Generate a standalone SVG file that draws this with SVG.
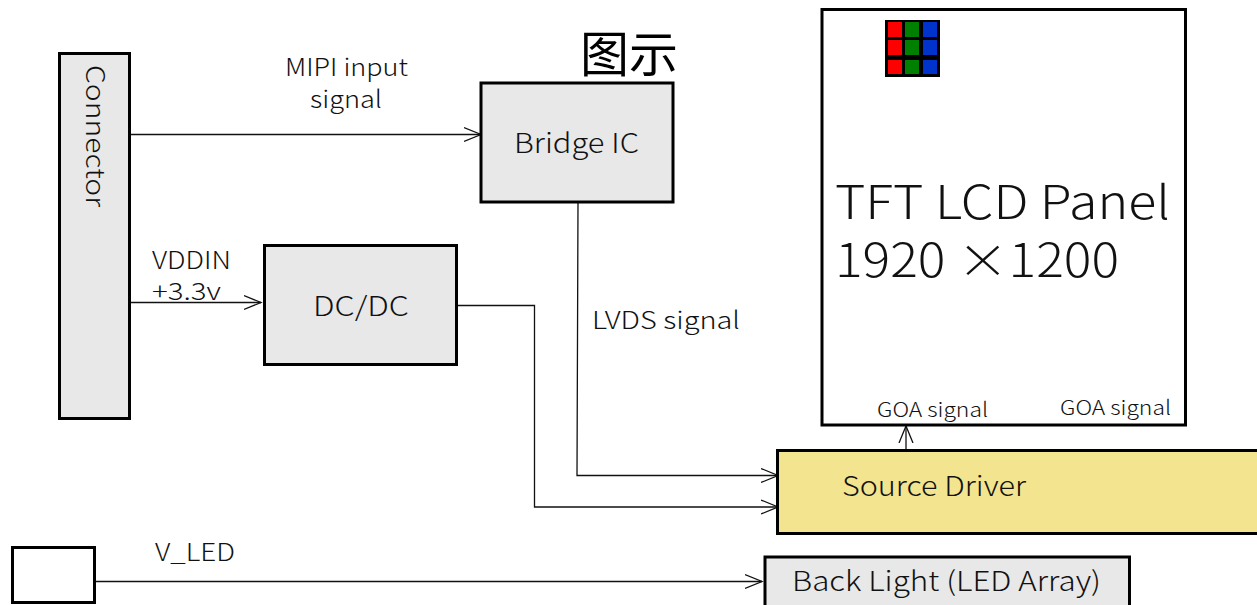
<svg xmlns="http://www.w3.org/2000/svg" width="1257" height="605" viewBox="0 0 1257 605">
<style>
text{font-family:"Noto Sans CJK KR","Noto Sans","Liberation Sans",sans-serif;fill:#111;font-weight:300}
.box{fill:#e8e8e8;stroke:#000;stroke-width:3}
.c{fill:none;stroke:#111;stroke-width:1.3}
</style>
<defs><marker id="a" markerUnits="userSpaceOnUse" markerWidth="20" markerHeight="20" refX="17" refY="10" orient="auto"><path d="M0 3 L17 10 L0 17" fill="none" stroke="#111" stroke-width="1.3"/></marker></defs>
<rect width="1257" height="605" fill="#fff"/>
<g id="connectors">
<path class="c" marker-end="url(#a)" d="M130 134.500H481"/>
<path class="c" marker-end="url(#a)" d="M130 302.500H261"/>
<path class="c" marker-end="url(#a)" d="M578 202L577 475.500H778"/>
<path class="c" marker-end="url(#a)" d="M456 305.500H534.500V507H778"/>
<path class="c" marker-end="url(#a)" d="M95 581.500H762"/>
<path class="c" marker-end="url(#a)" d="M906 450V426"/>
</g>
<g id="connector"><rect class="box" x="59.500" y="53.500" width="70" height="365"/>
<text transform="translate(86,65) rotate(90)" font-size="26" textLength="142" lengthAdjust="spacingAndGlyphs">Connector</text></g>
<g id="bridge"><rect class="box" x="481" y="83" width="192" height="119"/>
<text x="514" y="153" font-size="27" textLength="125" lengthAdjust="spacingAndGlyphs">Bridge IC</text></g>
<g id="dcdc"><rect class="box" x="264.500" y="245.500" width="192" height="119"/>
<text x="313" y="316" font-size="27" textLength="96" lengthAdjust="spacingAndGlyphs">DC/DC</text></g>
<g id="panel"><rect x="822" y="9.500" width="363.500" height="415.500" fill="#fff" stroke="#000" stroke-width="3"/>
<text x="835" y="219" font-size="46" textLength="335" lengthAdjust="spacingAndGlyphs">TFT LCD Panel</text>
<text x="835" y="277" font-size="46" textLength="284" lengthAdjust="spacingAndGlyphs">1920 ×1200</text>
<text x="877" y="417" font-size="20" textLength="111" lengthAdjust="spacingAndGlyphs">GOA signal</text>
<text x="1060" y="415" font-size="20" textLength="111" lengthAdjust="spacingAndGlyphs">GOA signal</text></g>
<g id="pixels"><rect x="885" y="20" width="55" height="57" fill="#000"/>
<g fill="#f00"><rect x="888" y="22" width="14" height="15"/><rect x="888" y="40" width="14" height="15"/><rect x="888" y="60" width="14" height="14"/></g>
<g fill="#008000"><rect x="905" y="22" width="14" height="15"/><rect x="905" y="40" width="14" height="15"/><rect x="905" y="60" width="14" height="14"/></g>
<g fill="#0033cc"><rect x="923" y="22" width="14" height="15"/><rect x="923" y="40" width="14" height="15"/><rect x="923" y="60" width="14" height="14"/></g></g>
<g id="source"><rect x="777.500" y="450.500" width="485" height="83" fill="#f3e48f" stroke="#000" stroke-width="3"/>
<text x="842" y="496" font-size="27" textLength="184" lengthAdjust="spacingAndGlyphs">Source Driver</text></g>
<g id="vled"><rect x="12.500" y="547.500" width="82" height="55" fill="#fff" stroke="#000" stroke-width="3"/></g>
<g id="backlight"><rect class="box" x="765" y="557" width="364.500" height="55"/>
<text x="792" y="591" font-size="27" textLength="309" lengthAdjust="spacingAndGlyphs">Back Light (LED Array)</text></g>
<g id="labels">
<text x="285" y="76" font-size="24" textLength="123" lengthAdjust="spacingAndGlyphs">MIPI input</text>
<text x="310" y="108" font-size="24" textLength="72" lengthAdjust="spacingAndGlyphs">signal</text>
<text x="152" y="269" font-size="24" textLength="79" lengthAdjust="spacingAndGlyphs">VDDIN</text>
<text x="152" y="300" font-size="24" textLength="69" lengthAdjust="spacingAndGlyphs">+3.3v</text>
<text x="592" y="329" font-size="24" textLength="148" lengthAdjust="spacingAndGlyphs">LVDS signal</text>
<text x="155" y="561" font-size="24" textLength="80" lengthAdjust="spacingAndGlyphs">V_LED</text>
<text x="629" y="72" font-size="49" text-anchor="middle" style="font-weight:400;fill:#000">图示</text>
</g>
</svg>
